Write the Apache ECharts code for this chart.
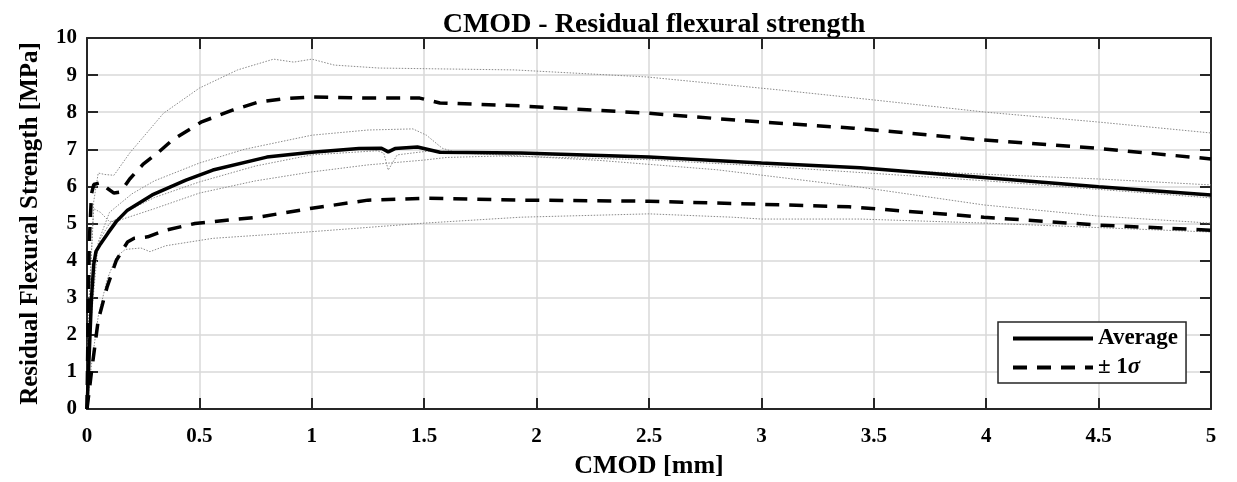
<!DOCTYPE html>
<html>
<head>
<meta charset="utf-8">
<script src="https://cdn.jsdelivr.net/npm/echarts@6/dist/echarts.min.js"></script>
<style>html,body{margin:0;padding:0;background:#fff}#c{width:1237px;height:482px}</style>
</head>
<body>
<div id="c"></div>
<script>
// CMOD [mm] vs residual flexural strength [MPa]
const average = [[0,0],[0.01,1.5],[0.02,3.0],[0.03,3.9],[0.04,4.25],[0.06,4.45],[0.093,4.74],[0.13,5.05],[0.18,5.36],[0.29,5.77],[0.44,6.17],[0.56,6.44],[0.8,6.79],[1.0,6.92],[1.21,7.02],[1.31,7.03],[1.34,6.93],[1.37,7.02],[1.47,7.06],[1.57,6.92],[1.93,6.9],[2.5,6.79],[3.0,6.63],[3.44,6.5],[4.0,6.23],[4.5,5.99],[5.0,5.77]];
const plusSigma = [[0,0],[0.005,2.5],[0.01,4.5],[0.02,5.8],[0.03,6.05],[0.06,6.1],[0.09,5.95],[0.12,5.82],[0.15,5.85],[0.19,6.2],[0.25,6.6],[0.32,6.93],[0.38,7.25],[0.51,7.74],[0.65,8.06],[0.76,8.27],[0.87,8.36],[1.0,8.41],[1.25,8.38],[1.48,8.38],[1.57,8.25],[1.93,8.17],[2.5,7.97],[2.99,7.74],[3.41,7.57],[3.99,7.25],[4.49,7.03],[5.0,6.74]];
const minusSigma = [[0,0],[0.02,1.0],[0.05,2.4],[0.09,3.3],[0.13,4.0],[0.18,4.5],[0.21,4.6],[0.27,4.64],[0.35,4.82],[0.48,5.0],[0.76,5.17],[1.0,5.41],[1.25,5.63],[1.51,5.68],[1.93,5.63],[2.5,5.6],[2.99,5.52],[3.39,5.45],[3.99,5.17],[4.49,4.96],[5.0,4.82]];
const specimenA = [[0,0],[0.01,3.0],[0.03,5.6],[0.05,6.36],[0.08,6.32],[0.12,6.3],[0.19,6.9],[0.34,7.97],[0.5,8.65],[0.67,9.14],[0.83,9.43],[0.92,9.35],[1.0,9.43],[1.1,9.27],[1.3,9.19],[1.9,9.14],[2.49,8.95],[3.08,8.6],[3.5,8.33],[4.0,8.0],[4.49,7.74],[5.0,7.44]];
const specimenB = [[0,0],[0.02,2.5],[0.05,4.5],[0.1,5.3],[0.2,5.8],[0.3,6.15],[0.5,6.63],[0.7,7.0],[1.0,7.38],[1.25,7.52],[1.45,7.55],[1.51,7.38],[1.58,7.03],[1.65,6.9],[1.84,6.85],[2.28,6.7],[2.8,6.45],[3.44,5.98],[3.99,5.5],[4.5,5.2],[5.0,5.01]];
const specimenC = [[0,0],[0.01,2.0],[0.03,3.8],[0.06,4.6],[0.1,5.0],[0.2,5.4],[0.3,5.7],[0.5,6.12],[0.75,6.55],[1.0,6.85],[1.29,6.96],[1.32,6.9],[1.34,6.44],[1.38,6.85],[1.53,6.96],[1.84,6.88],[2.5,6.78],[3.0,6.62],[3.75,6.39],[4.5,6.2],[5.0,6.04]];
const specimenD = [[0,0],[0.02,1.2],[0.05,2.5],[0.09,3.5],[0.13,4.1],[0.17,4.3],[0.24,4.34],[0.28,4.24],[0.35,4.4],[0.56,4.6],[1.0,4.78],[1.5,5.01],[1.93,5.17],[2.5,5.26],[2.87,5.17],[3.0,5.12],[3.44,5.12],[4.0,5.01],[5.0,4.77]];
const specimenE = [[0,0],[0.01,3.0],[0.03,5.4],[0.06,5.3],[0.1,5.05],[0.15,5.1],[0.3,5.4],[0.5,5.82],[0.75,6.15],[1.0,6.39],[1.25,6.58],[1.5,6.71],[1.6,6.78],[1.84,6.82],[2.5,6.72],[3.0,6.55],[4.0,6.15],[4.5,5.92],[5.0,5.69]];
const xTicks = {min: 0, max: 5, interval: 0.5};
const yTicks = {min: 0, max: 10, interval: 1};
const titleText = 'CMOD - Residual flexural strength';
const xName = 'CMOD [mm]';
const yName = 'Residual Flexural Strength [MPa]';

const FONT = '"Liberation Serif", "Times New Roman", serif';
const axisColor = '#262626';
const chart = echarts.init(document.getElementById('c'), null, {renderer: 'canvas'});

function thin(name, data) {
  return {name: name, type: 'line', data: data, showSymbol: false, symbol: 'none', z: 1, silent: true,
    lineStyle: {color: '#8a8a8a', width: 1, type: [1.5, 1.5]}};
}
const boldLabel = {fontFamily: FONT, fontWeight: 'bold', fontSize: 21, color: '#000'};
function xAx(pos, show) {
  return {type: 'value', position: pos, min: xTicks.min, max: xTicks.max, interval: xTicks.interval,
    axisLine: {show: true, onZero: false, lineStyle: {color: axisColor, width: 2}},
    axisTick: {show: true, inside: true, length: 11, lineStyle: {color: axisColor, width: 2}},
    axisLabel: {show: show, margin: 17, ...boldLabel},
    splitLine: {show: show, lineStyle: {color: '#d9d9d9', width: 1.5}},
    name: show ? xName : '', nameLocation: 'middle', nameGap: 44,
    nameTextStyle: {fontFamily: FONT, fontWeight: 'bold', fontSize: 26, color: '#000'}};
}
function yAx(pos, show) {
  return {type: 'value', position: pos, min: yTicks.min, max: yTicks.max, interval: yTicks.interval,
    axisLine: {show: true, onZero: false, lineStyle: {color: axisColor, width: 2}},
    axisTick: {show: true, inside: true, length: 11, lineStyle: {color: axisColor, width: 2}},
    axisLabel: {show: show, margin: 10, ...boldLabel},
    splitLine: {show: show, lineStyle: {color: '#d9d9d9', width: 1.5}},
    name: show ? yName : '', nameLocation: 'middle', nameGap: 44,
    nameTextStyle: {fontFamily: FONT, fontWeight: 'bold', fontSize: 25, color: '#000'}};
}
const legendSeriesItem = {color: '#000', opacity: 0};

chart.setOption({
  animation: false,
  backgroundColor: '#fff',
  title: {text: titleText, left: 649, textAlign: 'center', top: 6,
    textStyle: {fontFamily: FONT, fontWeight: 'bold', fontSize: 28, color: '#000'}},
  grid: {left: 87, right: 26, top: 38, bottom: 73, containLabel: false, outerBoundsMode: 'none'},
  xAxis: [xAx('bottom', true), xAx('top', false)],
  yAxis: [yAx('left', true), yAx('right', false)],
  legend: {
    data: ['Average', '± 1σ'], orient: 'vertical', left: 998, top: 322,
    padding: [5, 8, 4, 13], itemWidth: 80, itemHeight: 16, itemGap: 6,
    backgroundColor: '#fff', borderColor: '#262626', borderWidth: 1.5, borderRadius: 0,
    itemStyle: {opacity: 0},
    lineStyle: {width: 4},
    formatter: function (n) { return n === '± 1σ' ? '{a|± 1}{s|σ}' : '{a|' + n + '}'; },
    textStyle: {fontFamily: FONT, fontWeight: 'bold', fontSize: 23, color: '#000',
      rich: {a: {fontFamily: FONT, fontWeight: 'bold', fontSize: 23, color: '#000'},
             s: {fontFamily: FONT, fontStyle: 'italic', fontWeight: 'bold', fontSize: 23, color: '#000'}}},
    selectedMode: false
  },
  series: [
    thin('s1', specimenA), thin('s2', specimenB), thin('s3', specimenC), thin('s4', specimenD), thin('s5', specimenE),
    {name: '± 1σ', type: 'line', data: plusSigma, showSymbol: false, symbol: 'none', z: 3, itemStyle: legendSeriesItem,
      lineStyle: {color: '#000', width: 3.5, type: [14, 10], cap: 'butt'}},
    {name: '± 1σ', type: 'line', data: minusSigma, showSymbol: false, symbol: 'none', z: 3, itemStyle: legendSeriesItem,
      lineStyle: {color: '#000', width: 3.5, type: [14, 10], cap: 'butt'}},
    {name: 'Average', type: 'line', data: average, showSymbol: false, symbol: 'none', z: 4, itemStyle: legendSeriesItem,
      lineStyle: {color: '#000', width: 3.5, type: 'solid'}}
  ]
});
</script>
</body>
</html>
